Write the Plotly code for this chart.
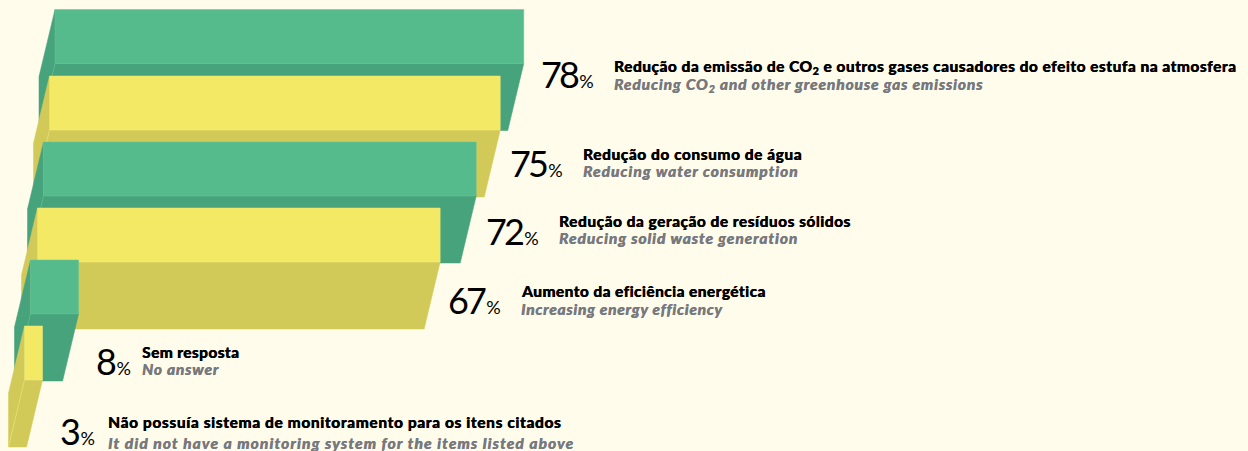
import plotly.graph_objects as go

# ---- data ----
values = [78, 75, 72, 67, 8, 3]
labels_pt = [
    "Redução da emissão de CO<sub>2</sub> e outros gases causadores do efeito estufa na atmosfera",
    "Redução do consumo de água",
    "Redução da geração de resíduos sólidos",
    "Aumento da eficiência energética",
    "Sem resposta",
    "Não possuía sistema de monitoramento para os itens citados",
]
labels_en = [
    "Reducing CO<sub>2</sub> and other greenhouse gas emissions",
    "Reducing water consumption",
    "Reducing solid waste generation",
    "Increasing energy efficiency",
    "No answer",
    "It did not have a monitoring system for the items listed above",
]

# ---- layout constants (pixels) ----
W, H = 1248, 451
PX_PER_PCT = 6.01
ORIGIN = 55
bar_left = [55, 49.5, 43.5, 37.5, 30.5, 24.5]
bar_top = [9.5, 76, 142, 208, 260, 326]
BAR_H = 54
DEPTH_X, DEPTH_Y = -16, 67
number_x = [539, 508, 484, 446, 94, 58]
number_y = [73.5, 162.5, 230.5, 299.5, 360.5, 430.5]
label_x = [612, 581, 557, 518.5, 140, 106]
label_y1 = [66.5, 154, 221, 291, 352, 422]
label_y2 = [84.5, 171, 238, 309, 369, 443]
track_pt = [0.47, 0.53, 0.48, 0.40, 0.37, 0.60]
track_en = [0.85, 0.97, 0.90, 0.70, 0.80, 1.10]

FRONT = ["#55BB8C", "#F4E964"]
SIDE = ["#46A37B", "#D2CA58"]
EDGE = ["#6AC39A", "#F0E97E"]
BG = "#FFFCEC"
BOLD_FONT = "Lato"


def px2pct(px):
    return (px - ORIGIN) / PX_PER_PCT


fig = go.Figure()


def poly(xs, ys, color, line=None):
    fig.add_trace(go.Scatter(
        x=xs + xs[:1], y=ys + ys[:1], mode="lines", fill="toself", fillcolor=color,
        line=dict(color=line or color, width=0.5), hoverinfo="skip", showlegend=False,
    ))


dx = DEPTH_X / PX_PER_PCT
for i, v in enumerate(values):
    c = i % 2
    x0 = px2pct(bar_left[i])
    x1 = x0 + v
    t = bar_top[i]
    b = t + BAR_H
    poly([x0, x0, x0 + dx, x0 + dx], [t, b, b + DEPTH_Y, t + DEPTH_Y], SIDE[c])
    poly([x0, x1, x1 + dx, x0 + dx], [b, b, b + DEPTH_Y, b + DEPTH_Y], SIDE[c])
    fig.add_trace(go.Scatter(x=[x0, x0 + dx], y=[b, b + DEPTH_Y], mode="lines",
                             line=dict(color=EDGE[c], width=0.5),
                             hoverinfo="skip", showlegend=False))
    poly([x0, x1, x1, x0], [t, t, b, b], FRONT[c], EDGE[c])

ann = []
for i, v in enumerate(values):
    s = str(v)
    head = f'<span style="letter-spacing:-3px">{s[:-1]}</span>' if len(s) > 1 else ""
    ann.append(dict(
        x=number_x[i] / W, y=1 - number_y[i] / H, xref="paper", yref="paper",
        xanchor="left", yanchor="middle", showarrow=False,
        text=f'{head}<span style="letter-spacing:-0.5px">{s[-1]}</span><span style="font-size:18px">%</span>',
        font=dict(family="Lato", size=36, color="#000000"),
    ))
    ann.append(dict(
        x=label_x[i] / W, y=1 - label_y1[i] / H, xref="paper", yref="paper",
        xanchor="left", yanchor="middle", showarrow=False,
        text=f'<span style="letter-spacing:{track_pt[i]}px">{labels_pt[i]}</span>',
        font=dict(family=BOLD_FONT, size=15.5, color="#000000", weight=900,
                  shadow="0.35px 0 0 #000000"),
    ))
    ann.append(dict(
        x=label_x[i] / W, y=1 - label_y2[i] / H, xref="paper", yref="paper",
        xanchor="left", yanchor="middle", showarrow=False,
        text=f'<span style="letter-spacing:{track_en[i]}px">{labels_en[i]}</span>',
        font=dict(family=BOLD_FONT, size=15.5, color="#77797E", weight=900, style="italic",
                  shadow="0.35px 0 0 #77797E"),
    ))

fig.update_layout(
    width=W, height=H, margin=dict(l=0, r=0, t=0, b=0),
    paper_bgcolor=BG, plot_bgcolor=BG, showlegend=False, annotations=ann,
    xaxis=dict(range=[px2pct(0), px2pct(W)], visible=False, fixedrange=True),
    yaxis=dict(range=[H, 0], visible=False, fixedrange=True),
)
fig.write_html("out.html", config={"displayModeBar": False},
               post_script="document.body.style.margin='0';document.body.style.background='#FFFCEC';")
